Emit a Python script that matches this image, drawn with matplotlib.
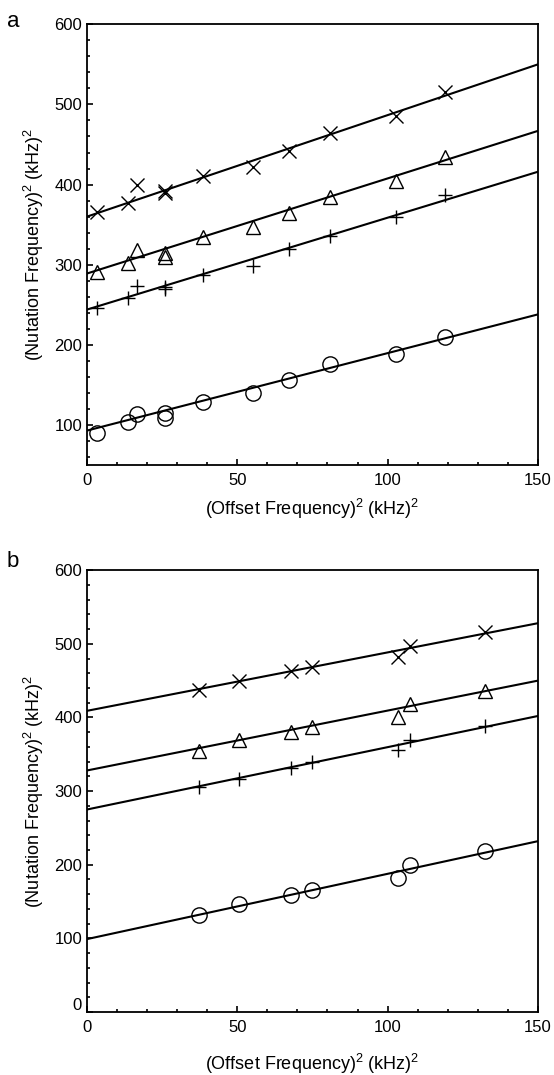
import matplotlib
matplotlib.use('Agg')
import matplotlib.pyplot as plt
from matplotlib.ticker import MultipleLocator
import matplotlib.transforms as mtransforms

plt.rcParams['font.family'] = ['Liberation Sans', 'DejaVu Sans']
plt.rcParams['mathtext.fontset'] = 'custom'
plt.rcParams['mathtext.rm'] = 'Liberation Sans'

# panel a data
a_x_cross = [3.4, 13.7, 16.5, 25.9, 25.9, 38.7, 55.1, 67.3, 80.8, 102.8, 119.1]
a_y_cross = [366, 377, 399, 389, 392, 411, 422, 442, 464, 486, 516]
a_x_tri = [3.4, 13.7, 16.5, 25.9, 25.9, 38.7, 55.1, 67.3, 80.8, 102.8, 119.1]
a_y_tri = [291, 302, 318, 310, 314, 334, 347, 365, 385, 405, 435]
a_x_plus = [3.4, 13.7, 16.5, 25.9, 25.9, 38.7, 55.1, 67.3, 80.8, 102.8, 119.1]
a_y_plus = [246, 258, 273, 270, 272, 287, 298, 319, 336, 360, 387]
a_x_circ = [3.4, 13.7, 16.5, 25.9, 25.9, 38.7, 55.1, 67.3, 80.8, 102.8, 119.1]
a_y_circ = [90, 104, 114, 115, 109, 129, 140, 156, 176, 189, 210]
# fitted lines: value at x=0 and x=150
a_fit_x = [0, 150]
a_fit_cross = [360, 550]
a_fit_tri = [289, 467]
a_fit_plus = [244, 416]
a_fit_circ = [93, 238]

# panel b data
b_x = [37.3, 50.6, 67.8, 74.7, 103.5, 107.4, 132.4]
b_y_cross = [437, 449, 463, 468, 482, 497, 516]
b_y_tri = [355, 369, 380, 387, 401, 418, 436]
b_y_plus = [306, 317, 331, 339, 356, 369, 388]
b_y_circ = [132, 146, 159, 166, 182, 199, 219]
b_fit_x = [0, 150]
b_fit_cross = [409, 528]
b_fit_tri = [328, 450]
b_fit_plus = [275, 402]
b_fit_circ = [99, 232]

fig = plt.figure(figsize=(5.54, 10.75), dpi=100)
ax1 = fig.add_axes([0.157, 0.5674, 0.814, 0.410])
ax2 = fig.add_axes([0.157, 0.0586, 0.814, 0.411])


def draw(ax, xc, yc, xt, yt, xp, yp, xo, yo, fx, fits, ylo, xpad):
    for f in fits:
        ax.plot(fx, f, color='black', lw=1.5, zorder=2)
    ax.plot(xc, yc, 'x', color='black', ms=10, mew=1.0, zorder=3)
    ax.plot(xt, yt, '^', mfc='none', mec='black', ms=10, mew=1.0, zorder=3)
    ax.plot(xp, yp, '+', color='black', ms=10, mew=1.0, zorder=3)
    ax.plot(xo, yo, 'o', mfc='none', mec='black', ms=11, mew=1.0, zorder=3)
    ax.set_xlim(0, 150)
    ax.set_ylim(ylo, 600)
    ax.xaxis.set_major_locator(MultipleLocator(50))
    ax.xaxis.set_minor_locator(MultipleLocator(10))
    ax.yaxis.set_major_locator(MultipleLocator(100))
    ax.yaxis.set_minor_locator(MultipleLocator(20))
    ax.tick_params(which='both', direction='in', top=False, right=False,
                   labelsize=12, width=1.2)
    ax.tick_params(which='major', length=4)
    ax.tick_params(which='minor', length=2)
    ax.tick_params(axis='x', pad=6)
    for s in ax.spines.values():
        s.set_linewidth(1.3)
    ax.set_xlabel('(Offset Frequency)$^2$ (kHz)$^2$', fontsize=13, labelpad=xpad)
    ax.set_ylabel('(Nutation Frequency)$^2$ (kHz)$^2$', fontsize=13, labelpad=6)


draw(ax1, a_x_cross, a_y_cross, a_x_tri, a_y_tri, a_x_plus, a_y_plus,
     a_x_circ, a_y_circ, a_fit_x,
     [a_fit_cross, a_fit_tri, a_fit_plus, a_fit_circ], 50, 6)
draw(ax2, b_x, b_y_cross, b_x, b_y_tri, b_x, b_y_plus, b_x, b_y_circ,
     b_fit_x, [b_fit_cross, b_fit_tri, b_fit_plus, b_fit_circ], 0, 12)

# the "0" on the y axis of panel b sits a bit above the corner
fig.canvas.draw()
for lab in ax2.get_yticklabels():
    if lab.get_text() == '0':
        lab.set_transform(lab.get_transform() +
                          mtransforms.ScaledTranslation(0, 6 / 72, fig.dpi_scale_trans))

fig.text(0.012, 0.99, 'a', fontsize=16, va='top', ha='left')
fig.text(0.012, 0.487, 'b', fontsize=16, va='top', ha='left')

fig.savefig('out.png', dpi=100)
